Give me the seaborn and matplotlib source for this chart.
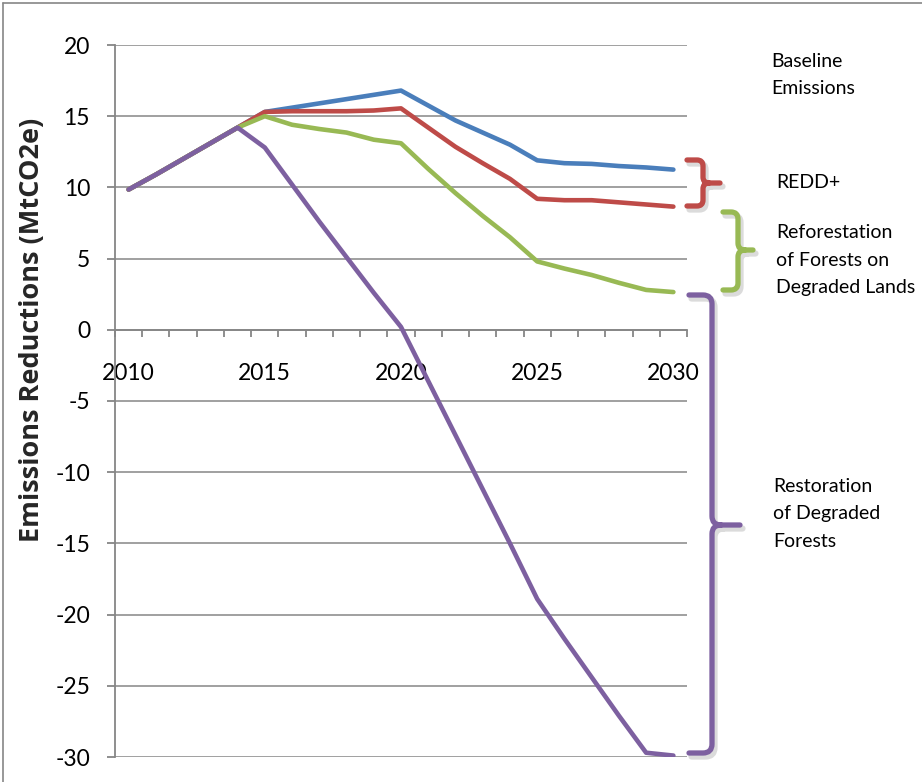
import numpy as np
import pandas as pd
import matplotlib
matplotlib.use("Agg")
import matplotlib.pyplot as plt
import seaborn as sns
from matplotlib.path import Path
from matplotlib.patches import PathPatch
import matplotlib.transforms as mtransforms

# ---------------- data ----------------
years = list(range(2010, 2031))
baseline = [9.85, 10.9, 12.0, 13.1, 14.2, 15.3, 15.6, 15.9, 16.2, 16.5, 16.8,
            15.75, 14.7, 13.85, 13.0, 11.9, 11.7, 11.65, 11.5, 11.4, 11.25]
redd = [9.85, 10.9, 12.0, 13.1, 14.2, 15.3, 15.35, 15.35, 15.35, 15.4, 15.55,
        14.2, 12.85, 11.7, 10.6, 9.2, 9.1, 9.1, 8.95, 8.8, 8.65]
reforest = [9.85, 10.9, 12.0, 13.1, 14.2, 15.0, 14.4, 14.1, 13.85, 13.35, 13.1,
            11.3, 9.6, 8.0, 6.5, 4.8, 4.3, 3.85, 3.3, 2.8, 2.65]
restore = [9.85, 10.9, 12.0, 13.1, 14.2, 12.8, 10.2, 7.6, 5.1, 2.6, 0.2,
           -3.6, -7.4, -11.2, -15.0, -18.9, -21.7, -24.4, -27.1, -29.7, -29.9]
series_names = ["Baseline Emissions", "REDD+",
                "Reforestation of Forests on Degraded Lands",
                "Restoration of Degraded Forests"]
colors = ["#4A7EBB", "#BE4B48", "#98B954", "#7D60A0"]
y_ticks = [20, 15, 10, 5, 0, -5, -10, -15, -20, -25, -30]
x_label_years = [2010, 2015, 2020, 2025, 2030]
ylabel = "Emissions Reductions (MtCO2e)"
annot_texts = ["Baseline\nEmissions", "REDD+",
               "Reforestation\nof Forests on\nDegraded Lands",
               "Restoration\nof Degraded\nForests"]

rows = []
for name, vals in zip(series_names, [baseline, redd, reforest, restore]):
    for yr, v in zip(years, vals):
        rows.append({"idx": yr - years[0], "year": yr, "value": v, "series": name})
df = pd.DataFrame(rows)

# ---------------- style ----------------
sns.set_style("white")
plt.rcParams['font.family'] = ['Lato', 'DejaVu Sans']

W, H = 922, 782
fig = plt.figure(figsize=(W / 100, H / 100), dpi=100)
ax = fig.add_axes([115 / W, 1 - 757 / H, (687 - 115) / W, (757 - 45) / H])

grid_c = "#868686"
sns.lineplot(data=df, x="idx", y="value", hue="series", hue_order=series_names,
             palette=dict(zip(series_names, colors)), ax=ax, legend=False,
             linewidth=3.3, zorder=3)
for ln in ax.get_lines():
    ln.set_solid_capstyle("round")
    ln.set_solid_joinstyle("round")

ax.set_xlim(-0.5, len(years) - 0.5)
ax.set_ylim(-30, 20)
ax.set_yticks(y_ticks)
ax.set_yticklabels([str(t) for t in y_ticks])
ax.yaxis.grid(True, color=grid_c, linewidth=1.1, zorder=0)
ax.set_axisbelow(True)

ax.set_xticks([y - years[0] for y in x_label_years])
ax.set_xticklabels([str(y) for y in x_label_years])
ax.set_xticks(np.arange(-0.5, len(years), 1.0), minor=True)

for s in ["top", "right"]:
    ax.spines[s].set_visible(False)
ax.spines["left"].set_color(grid_c)
ax.spines["left"].set_linewidth(1.3)
ax.spines["bottom"].set_position(("data", 0))
ax.spines["bottom"].set_color(grid_c)
ax.spines["bottom"].set_linewidth(1.3)

ax.tick_params(axis="y", which="major", direction="out", length=6, width=1.3,
               color=grid_c, pad=12, labelsize=16.5, labelcolor="black", left=True)
ax.tick_params(axis="x", which="major", length=0, pad=24, labelsize=16.5,
               labelcolor="black", bottom=True)
ax.tick_params(axis="x", which="minor", direction="out", length=5, width=1.3,
               color=grid_c, bottom=True)
ax.set_xlabel("")
ax.set_ylabel(ylabel, fontsize=19.5, fontweight="bold",
              family=["Open Sans", "DejaVu Sans"])
ax.yaxis.set_label_coords(-0.123, (757 - 330) / (757 - 45))

# ---------------- overlay: brackets + labels (pixel coords) ----------------
ov = fig.add_axes([0, 0, 1, 1], zorder=5)
ov.set_xlim(0, W)
ov.set_ylim(H, 0)
ov.axis("off")
ov.patch.set_alpha(0)


def brace(x0, xs, xt, yt, yb, ym, r):
    verts = [(x0, yt), (xs - r, yt), (xs, yt), (xs, yt + r),
             (xs, ym - r), (xs, ym), (xs + r, ym), (xt, ym),
             (xs + r, ym), (xs, ym), (xs, ym + r),
             (xs, yb - r), (xs, yb), (xs - r, yb), (x0, yb)]
    codes = [Path.MOVETO, Path.LINETO, Path.CURVE3, Path.CURVE3,
             Path.LINETO, Path.CURVE3, Path.CURVE3, Path.LINETO,
             Path.MOVETO, Path.CURVE3, Path.CURVE3,
             Path.LINETO, Path.CURVE3, Path.CURVE3, Path.LINETO]
    return Path(verts, codes)


braces = [
    (687, 703, 720, 160, 206, 183, 6, colors[1]),
    (723, 738, 753, 212, 290, 250, 7, colors[2]),
    (689, 712, 740, 295, 753, 525, 9, colors[3]),
]
shadow_tr = mtransforms.offset_copy(ov.transData, fig=fig, x=2.5, y=-3.5, units="dots")
for x0, xs, xt, yt, yb, ym, r, c in braces:
    p = brace(x0, xs, xt, yt, yb, ym, r)
    ov.add_patch(PathPatch(p, facecolor="none", edgecolor="#9a9a9a", lw=4.5,
                           alpha=0.35, transform=shadow_tr, capstyle="round",
                           joinstyle="round"))
    ov.add_patch(PathPatch(p, facecolor="none", edgecolor=c, lw=3.8,
                           capstyle="round", joinstyle="round"))

annot_pos = [(771, 75), (776, 183), (776, 260), (773, 514)]
for (tx, ty), t in zip(annot_pos, annot_texts):
    ov.text(tx, ty, t, ha="left", va="center", fontsize=14, linespacing=1.78,
            color="black")

# figure frame (left & top)
ov.plot([3, 3], [3, H], color=grid_c, lw=1.2)
ov.plot([3, W], [3, 3], color=grid_c, lw=1.2)

fig.savefig("out.png", dpi=100)
